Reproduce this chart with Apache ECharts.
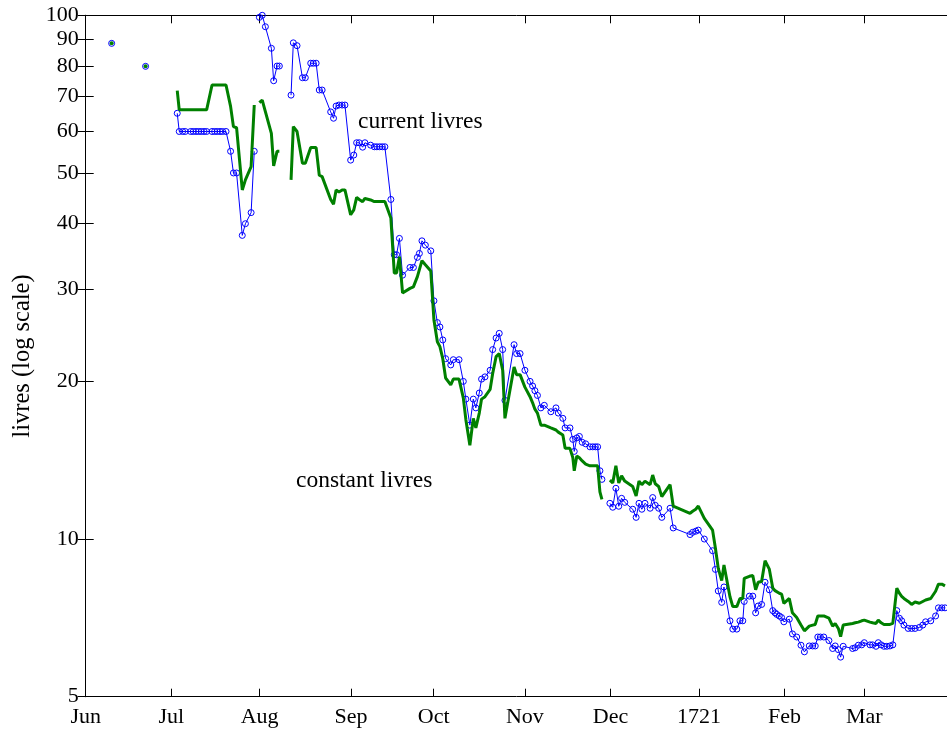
<!DOCTYPE html>
<html><head><meta charset="utf-8">
<script src="https://cdn.jsdelivr.net/npm/echarts@6/dist/echarts.min.js"></script>
<style>html,body{margin:0;padding:0;background:#fff}#c{width:947px;height:731px}</style>
</head><body><div id="c"></div>
<script>
// x values: days since 1 June 1720; null marks a break in the series
const days = [9.1, 15, 21.0, 27,
32.1, 32.8, 34.0, 34.9, 36.8, 37.7, 38.7, 39.6, 40.5, 41.5, 42.4, 44.3, 45.2, 46.1, 47.1, 48.0, 49.2, 50.8, 51.8, 52.9, 54.9, 56.0, 58.0, 59.1, 60,
60.9, 61.9, 63.0, 65.1, 65.9, 67.1, 67.9, 70,
72.0, 72.8, 74.1, 76.0, 77.0, 78.9, 79.8, 80.8, 81.9, 82.9, 85.9, 86.9, 87.8, 88.8, 89.9, 90.9, 92.9, 94.0, 95.0, 95.9, 97.1, 97.9, 99.9, 101.2, 102.1, 103.1, 104.0, 104.9, 107.0, 108.2, 109.0, 110.0, 111.1, 113.7, 114.9, 116.3, 117.0, 117.9, 119.1, 121.0, 122.1, 123.3, 124.2, 125.2, 126.2, 128.0, 128.9, 130.9, 132.4, 133.3, 134.7, 135.9, 136.8, 138.0, 138.8, 140.0, 141.8, 142.7, 143.9, 145.0, 146.2, 147.0, 150.2, 151.1, 152.3, 154.0, 155.8, 156.7, 157.5, 158.4, 159.6, 160.8, 163.1, 164.9, 165.7, 167.3, 168.1, 169.8, 170.8, 171.3, 172.2, 173.1, 174.1, 175.3, 176.8, 177.8, 178.7, 179.5, 180.3, 181.0, 182.4,
183.8, 184.8, 185.9, 186.9, 187.9, 189.0, 191.8, 193.0, 194.0, 195.0, 196.1, 197.9, 198.8, 199.7, 200.9, 202.0, 204.9, 206.0, 211.9, 212.8, 213.9, 214.8, 216.9, 219.8, 220.8, 221.8, 223.0, 223.8, 225.9, 226.9, 228.3, 229.4, 230.4, 230.9, 232.7, 233.9, 234.9, 235.8, 237.0, 238.2, 239.7, 240.9, 241.7, 242.3, 243.2, 244.0, 244.8, 246.7, 247.8, 249.3, 250.8, 252.0, 253.7, 254.9, 255.8, 256.7, 257.6, 258.8, 260.6, 261.9, 262.8, 263.9, 264.7, 265.6, 268.9, 269.8, 270.9, 272.1, 273.0, 275.0, 275.9, 277.1, 277.9, 278.9, 279.9, 280.9, 282.0, 283.0, 284.4, 285.3, 286.1, 286.9, 288.4, 289.6, 290.8, 292.3, 293.5, 294.5, 296.3, 298.0, 299.0, 300.2, 301.3];

const currentLivres = [88.4, null, 79.9, null,
65.0, 60, 60, 60, 60, 60, 60, 60, 60, 60, 60, 60, 60, 60, 60, 60, 60, 55, 50, 50, 38.0, 40.0, 42.0, 55.0, null,
99.1, 100, 95.1, 86.5, 75.0, 80.0, 80.0, null,
70.4, 88.6, 87.5, 76.0, 76.0, 81.0, 81.0, 81.0, 72.0, 72.0, 65.4, 63.6, 67.1, 67.4, 67.4, 67.4, 52.9, 54.1, 57.1, 57.1, 56.0, 57.1, 56.5, 56.1, 56.1, 56.1, 56.1, 56.1, 44.5, 34.9, 34.9, 37.5, 31.9, 33.0, 33.0, 34.5, 35.1, 37.1, 36.4, 35.5, 28.5, 25.9, 25.4, 24.0, 22.1, 21.5, 22.0, 22.0, 20.0, 18.5, 16.5, 18.5, 17.8, 19.0, 20.2, 20.4, 21.0, 23.0, 24.2, 24.7, 23.0, 18.4, 23.5, 22.6, 22.6, 21.0, 20.0, 19.6, 19.2, 18.8, 17.8, 18.0, 17.5, 17.8, 17.4, 17.0, 16.3, 16.3, 15.5, 14.7, 15.6, 15.7, 15.3, 15.2, 15.0, 15.0, 15.0, 15.0, 13.5, 13.0, null,
11.7, 11.5, 12.5, 11.55, 11.96, 11.75, 11.4, 11.0, 11.7, 11.4, 11.7, 11.45, 12.0, 11.6, 11.45, 11.0, 11.45, 10.5, 10.2, 10.3, 10.35, 10.4, 10.0, 9.5, 8.75, 7.96, 7.57, 8.1, 6.98, 6.73, 6.73, 6.98, 6.98, 7.6, 7.78, 7.78, 7.23, 7.45, 7.5, 8.27, 8.0, 7.3, 7.23, 7.18, 7.13, 7.08, 6.95, 7.03, 6.59, 6.5, 6.27, 6.09, 6.25, 6.25, 6.25, 6.5, 6.5, 6.5, 6.4, 6.18, 6.25, 6.15, 5.95, 6.24, 6.18, 6.2, 6.27, 6.28, 6.34, 6.28, 6.28, 6.24, 6.34, 6.28, 6.24, 6.24, 6.25, 6.28, 7.3, 7.06, 6.98, 6.85, 6.75, 6.75, 6.75, 6.78, 6.85, 6.95, 6.98, 7.13, 7.39, 7.39, 7.39];

const constantLivres = [88.4, null, 79.9, null,
71.8, 66, 66, 66, 66, 66, 66, 66, 66, 66, 66, 73.6, 73.6, 73.6, 73.6, 73.6, 73.6, 67.0, 61.3, 61.0, 46.4, 48.5, 51.4, 67.4, null,
68.1, 68.9, 65.5, 59.5, 51.6, 55.0, 55.0, null,
48.5, 61.3, 60.0, 52.2, 52.2, 55.9, 55.9, 55.9, 49.5, 49.2, 44.5, 43.6, 46.4, 46.0, 46.4, 46.4, 41.6, 42.5, 44.9, 44.5, 44.06, 44.7, 44.4, 44.1, 44.1, 44.1, 44.1, 44.1, 41.0, 32.2, 32.2, 34.6, 29.5, 30.1, 30.3, 31.7, 31.9, 34.0, 33.4, 32.5, 26.2, 23.8, 23.3, 22.1, 20.3, 19.7, 20.2, 20.2, 18.6, 16.9, 15.1, 17.0, 16.3, 17.4, 18.5, 18.7, 19.3, 20.7, 22.3, 22.6, 21.0, 17.0, 21.3, 20.6, 20.6, 19.5, 18.7, 18.2, 17.7, 17.4, 16.5, 16.5, 16.3, 16.15, 16.0, 15.8, 14.9, 14.9, 14.3, 13.5, 14.4, 14.3, 14.1, 13.9, 13.8, 13.8, 13.8, 13.8, 12.3, 11.9, null,
12.96, 12.8, 13.8, 12.8, 13.2, 12.9, 12.6, 12.08, 12.9, 12.7, 12.9, 12.7, 13.25, 12.75, 12.6, 12.05, 12.7, 11.56, 11.2, 11.3, 11.4, 11.56, 10.95, 10.4, 9.6, 8.79, 8.33, 8.92, 7.76, 7.43, 7.43, 7.7, 7.7, 8.41, 8.49, 8.52, 8.0, 8.27, 8.3, 9.09, 8.76, 8.06, 7.97, 7.93, 7.88, 7.85, 7.54, 7.7, 7.23, 7.08, 6.85, 6.68, 6.82, 6.85, 6.87, 7.13, 7.13, 7.13, 7.06, 6.82, 6.9, 6.75, 6.51, 6.85, 6.9, 6.92, 6.94, 6.98, 7.0, 6.94, 6.92, 6.9, 7.0, 6.92, 6.87, 6.87, 6.87, 6.9, 8.06, 7.88, 7.77, 7.7, 7.6, 7.5, 7.58, 7.54, 7.6, 7.65, 7.7, 7.95, 8.2, 8.2, 8.14];

const xTickDays = [0, 30, 61, 93, 122, 154, 184, 215, 245, 273];
const xTickLabels = ['Jun', 'Jul', 'Aug', 'Sep', 'Oct', 'Nov', 'Dec', '1721', 'Feb', 'Mar'];
const yTicks = [5, 10, 20, 30, 40, 50, 60, 70, 80, 90, 100];
const yAxisTitle = 'livres (log scale)';
const seriesNames = ['current livres', 'constant livres'];

const FONT = '"Liberation Serif", "Times New Roman", serif';
const X_MAX = 302.7;

function pairs(vals) {
  return days.map((d, i) => vals[i] == null ? [d, '-'] : [d, vals[i]]);
}
function greenItems(vals) {
  return days.map((d, i) => {
    if (vals[i] == null) return [d, '-'];
    const lone = (i === 0 || vals[i - 1] == null) && (i === vals.length - 1 || vals[i + 1] == null);
    return lone ? { value: [d, vals[i]], symbol: 'circle', symbolSize: 4 } : [d, vals[i]];
  });
}

const chart = echarts.init(document.getElementById('c'));
const xBase = {
  type: 'value', min: 0, max: X_MAX,
  splitLine: { show: false },
  axisLine: { show: true, onZero: false, lineStyle: { color: '#000', width: 1 } },
  axisTick: { show: true, inside: true, length: 8, customValues: xTickDays, lineStyle: { color: '#000', width: 1 } }
};
const yBase = {
  type: 'log', logBase: 10, min: 5, max: 100,
  splitLine: { show: false },
  axisLine: { show: true, lineStyle: { color: '#000', width: 1 } },
  axisTick: { show: true, inside: true, length: 8, customValues: yTicks, lineStyle: { color: '#000', width: 1 } }
};

chart.setOption({
  animation: false,
  backgroundColor: '#fff',
  grid: { left: 85.7, top: 15.3, right: -2, bottom: 34.3, containLabel: false, outerBoundsMode: 'none' },
  xAxis: [
    Object.assign({}, xBase, {
      position: 'bottom',
      axisLabel: {
        show: true, customValues: xTickDays, margin: 10, hideOverlap: false,
        color: '#000', fontFamily: FONT, fontSize: 22,
        formatter: v => xTickLabels[xTickDays.indexOf(Math.round(v))] || ''
      }
    }),
    Object.assign({}, xBase, { position: 'top', axisLabel: { show: false } })
  ],
  yAxis: [
    Object.assign({}, yBase, {
      position: 'left',
      name: yAxisTitle, nameLocation: 'middle', nameRotate: 90, nameGap: 47,
      nameTextStyle: { color: '#000', fontFamily: FONT, fontSize: 24.5 },
      axisLabel: {
        show: true, customValues: yTicks, margin: 7, hideOverlap: false,
        color: '#000', fontFamily: FONT, fontSize: 22,
        formatter: v => String(Math.round(v))
      }
    }),
    Object.assign({}, yBase, { position: 'right', axisLabel: { show: false } })
  ],
  series: [
    {
      name: seriesNames[0], type: 'line', xAxisIndex: 0, yAxisIndex: 0,
      data: pairs(currentLivres), connectNulls: false, clip: false,
      symbol: 'circle', symbolSize: 6, showSymbol: true,
      itemStyle: { color: 'rgba(0,0,0,0)', borderColor: '#0000ff', borderWidth: 1 },
      lineStyle: { color: '#0000ff', width: 1 },
      emphasis: { disabled: true }, z: 2
    },
    {
      name: seriesNames[1], type: 'line', xAxisIndex: 0, yAxisIndex: 0,
      data: greenItems(constantLivres), connectNulls: false,
      symbol: 'none', showSymbol: true,
      itemStyle: { color: '#008000' },
      lineStyle: { color: '#008000', width: 3 },
      emphasis: { disabled: true }, z: 3
    }
  ],
  graphic: [
    { type: 'text', left: 358, top: 110, silent: true,
      style: { text: seriesNames[0], fontFamily: FONT, fontSize: 23.5, fill: '#000' } },
    { type: 'text', left: 296, top: 469, silent: true,
      style: { text: seriesNames[1], fontFamily: FONT, fontSize: 23.5, fill: '#000' } }
  ]
});
</script>
</body></html>
